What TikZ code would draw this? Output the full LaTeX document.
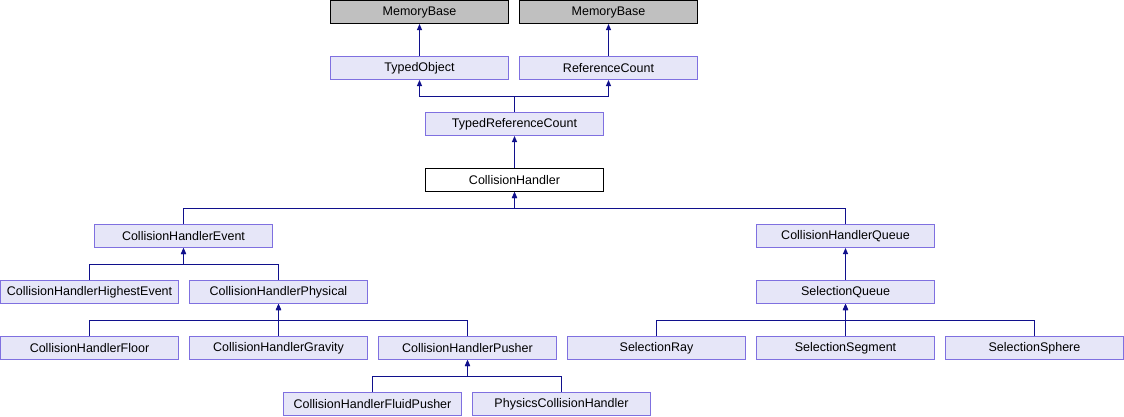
\documentclass[tikz,border=0pt]{standalone}
\usepackage{fontspec}
\setmainfont{Liberation Sans}
\usetikzlibrary{arrows.meta}
\definecolor{edgecol}{HTML}{10108C}
\definecolor{boxborder}{HTML}{7F70E0}
\definecolor{boxfill}{HTML}{E6E6F8}
\definecolor{extfill}{HTML}{C0C0C0}
\begin{document}
\begin{tikzpicture}[x=1pt,y=-1pt,
  cls/.style={draw=boxborder,fill=boxfill,line width=1pt,minimum width=178pt,minimum height=23pt,inner sep=0pt,font=\fontsize{12.5}{14}\selectfont},
  extcls/.style={cls,draw=black,fill=extfill},
  curcls/.style={cls,draw=black,fill=white},
  edge/.style={draw=edgecol,line width=1pt,-{Triangle[width=5pt,length=6pt]}}]
\useasboundingbox (0,0) rectangle (1124,416);
\fill[white] (0,0) rectangle (1124,416);
% row 0
\node[extcls] (mb1) at (419.5,12) {MemoryBase};
\node[extcls] (mb2) at (608.5,12) {MemoryBase};
% row 1
\node[cls] (to) at (419.5,68) {TypedObject};
\node[cls] (rc) at (608.5,68) {ReferenceCount};
% row 2
\node[cls] (trc) at (514.5,124) {TypedReferenceCount};
% row 3
\node[curcls] (ch) at (514.5,180) {CollisionHandler};
% row 4
\node[cls] (che) at (183.5,236) {CollisionHandlerEvent};
\node[cls] (chq) at (845.5,236) {CollisionHandlerQueue};
% row 5
\node[cls] (chhe) at (89.5,292) {CollisionHandlerHighestEvent};
\node[cls] (chp) at (278.5,292) {CollisionHandlerPhysical};
\node[cls] (sq) at (845.5,292) {SelectionQueue};
% row 6
\node[cls] (chf) at (89.5,348) {CollisionHandlerFloor};
\node[cls] (chg) at (278.5,348) {CollisionHandlerGravity};
\node[cls] (chpu) at (467.5,348) {CollisionHandlerPusher};
\node[cls] (sr) at (656.5,348) {SelectionRay};
\node[cls] (ss) at (845.5,348) {SelectionSegment};
\node[cls] (ssp) at (1034.5,348) {SelectionSphere};
% row 7
\node[cls] (chfp) at (372.5,404) {CollisionHandlerFluidPusher};
\node[cls] (pch) at (561.5,404) {PhysicsCollisionHandler};
% edges
\draw[edge] (to.north) -- (mb1.south);
\draw[edge] (rc.north) -- (mb2.south);
\draw[edge] (trc.north) -- ++(0,-15.5) -| (to.south);
\draw[edge] (trc.north) -- ++(0,-15.5) -| (rc.south);
\draw[edge] (ch.north) -- (trc.south);
\draw[edge] (che.north) -- ++(0,-15.5) -| (ch.south);
\draw[edge] (chq.north) -- ++(0,-15.5) -| (ch.south);
\draw[edge] (chhe.north) -- ++(0,-15.5) -| (che.south);
\draw[edge] (chp.north) -- ++(0,-15.5) -| (che.south);
\draw[edge] (sq.north) -- (chq.south);
\draw[edge] (chf.north) -- ++(0,-15.5) -| (chp.south);
\draw[edge] (chg.north) -- (chp.south);
\draw[edge] (chpu.north) -- ++(0,-15.5) -| (chp.south);
\draw[edge] (sr.north) -- ++(0,-15.5) -| (sq.south);
\draw[edge] (ss.north) -- (sq.south);
\draw[edge] (ssp.north) -- ++(0,-15.5) -| (sq.south);
\draw[edge] (chfp.north) -- ++(0,-15.5) -| (chpu.south);
\draw[edge] (pch.north) -- ++(0,-15.5) -| (chpu.south);
\end{tikzpicture}
\end{document}
